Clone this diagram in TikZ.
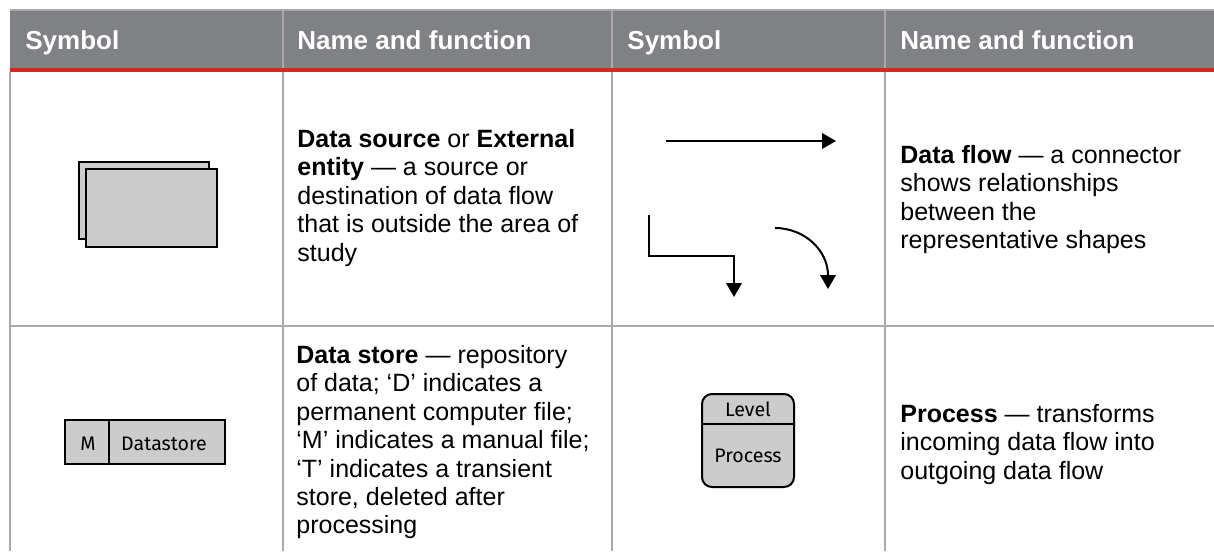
\documentclass[tikz,border=0pt]{standalone}
\usepackage{fontspec}
\setmainfont{Liberation Sans}
\newfontfamily\symfont{Fira Sans}
\usepackage{xcolor}
\usetikzlibrary{arrows.meta, math}

\definecolor{headgrey}{HTML}{808185}
\definecolor{rulegrey}{HTML}{A9A9AD}
\definecolor{headred}{HTML}{D12A1F}
\definecolor{shapegrey}{HTML}{CCCCCC}

\tikzset{
  head/.style={text=white, font=\fontsize{13}{15}\selectfont\bfseries, anchor=base west, inner sep=0},
  body/.style={font=\fontsize{12.5}{14.2}\selectfont, align=left, anchor=north west, inner sep=0},
  symbox/.style={draw=black, fill=shapegrey, line width=1pt},
  symlabel/.style={font=\symfont\fontsize{9.8}{12}\selectfont, anchor=base, inner sep=0},
  flow/.style={line width=1pt, -{Triangle[length=7pt,width=7.8pt]}},
  cellrule/.style={rulegrey, line width=0.75pt},
}

\begin{document}
\begin{tikzpicture}[x=0.5pt, y=-0.5pt]
\tikzmath{
\Wd=1214;
\Ht=551;
\cA=283;
\cB=612;
\cC=885;
\rowY=326;
}
\useasboundingbox (0,0) rectangle (\Wd,\Ht);

% header band
\fill[headgrey] (10,10) rectangle (\Wd,68);
\draw[rulegrey, line width=1pt] (10,10.5) -- (\Wd,10.5);
\foreach \c in {\cA,\cB,\cC}
  \draw[cellrule] (\c,11) -- (\c,68);
\fill[headred] (10,68) rectangle (\Wd,72);

\node[head] (hsymA) at (25,50) {Symbol};
\node[head] (hnameA) at (297,50) {Name and function};
\node[head] (hsymB) at (627,50) {Symbol};
\node[head] (hnameB) at (900,50) {Name and function};

% cell rules
\foreach \c in {10,\cA,\cB,\cC}
  \draw[cellrule] (\c,72) -- (\c,\Ht);
\draw[cellrule] (10,\rowY) -- (\Wd,\rowY);

% external entity
\draw[symbox] (79,162) rectangle (209,239);
\draw[symbox] (86,169) rectangle (217,247);
\node[body] (srcText) at (297,129) {\textbf{Data source} or \textbf{External}\\
  \textbf{entity} — a source or\\ destination of data flow\\
  that is outside the area of\\ study};

% data flow arrows
\draw[flow] (666,141) -- (836,141);
\draw[flow] (649,215) |- (734,256) -- (734,297);
\draw[flow] (775,228) .. controls (804,228) and (828,250) .. (828,289);
\node[body] (flowText) at (900,145) {\textbf{Data flow} — a connector\\
  shows relationships\\ between the\\ representative shapes};

% data store
\draw[symbox] (65,420) rectangle (225,464);
\draw[line width=1pt] (109,420) -- (109,464);
\node[symlabel] (storeId) at (88,450) {M};
\node[symlabel] (storeName) at (164,450) {Datastore};
\node[body] (storeText) at (296,345) {\textbf{Data store} — repository\\
  of data; ‘D’ indicates a\\ permanent computer file;\\
  ‘M’ indicates a manual file;\\ ‘T’ indicates a transient\\
  store, deleted after\\ processing};

% process
\draw[symbox, rounded corners=5pt] (702,394) rectangle (794,487);
\draw[line width=1pt] (702,424) -- (794,424);
\node[symlabel] (procLevel) at (748,416) {Level};
\node[symlabel] (procName) at (748,462) {Process};
\node[body] (procText) at (900,404) {\textbf{Process} — transforms\\
  incoming data flow into\\ outgoing data flow};

\end{tikzpicture}
\end{document}
